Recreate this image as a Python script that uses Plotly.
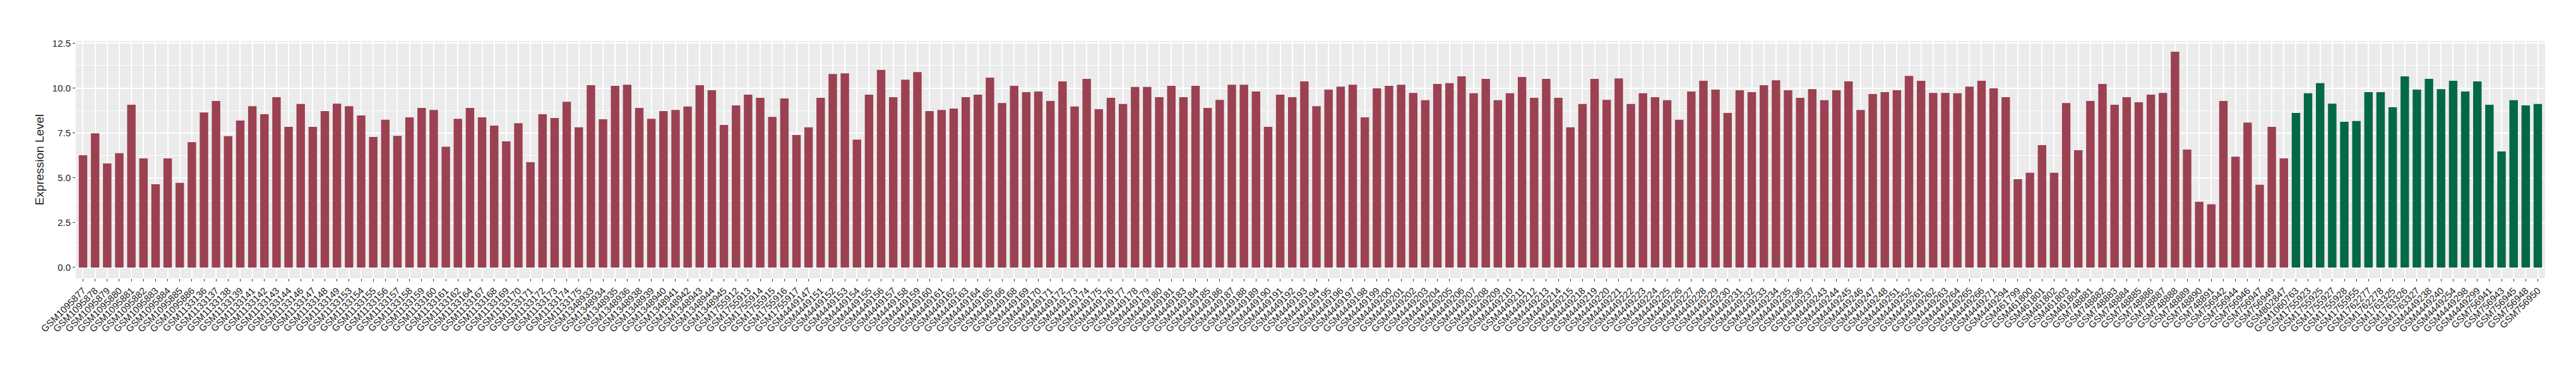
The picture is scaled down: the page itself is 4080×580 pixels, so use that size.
import plotly.graph_objects as go

# ---- data ----
samples_a = [
    "GSM1095877", "GSM1095878", "GSM1095879", "GSM1095880", "GSM1095881", "GSM1095882",
    "GSM1095883", "GSM1095884", "GSM1095885", "GSM1095886",
    "GSM1133136", "GSM1133137", "GSM1133138", "GSM1133139", "GSM1133141", "GSM1133142",
    "GSM1133143", "GSM1133144", "GSM1133146", "GSM1133147", "GSM1133148", "GSM1133149",
    "GSM1133153", "GSM1133154", "GSM1133155", "GSM1133156", "GSM1133157", "GSM1133158",
    "GSM1133159", "GSM1133160", "GSM1133161", "GSM1133162", "GSM1133164", "GSM1133167",
    "GSM1133168", "GSM1133169", "GSM1133170", "GSM1133171", "GSM1133172", "GSM1133173",
    "GSM1133174", "GSM1133175",
    "GSM1348933", "GSM1348934", "GSM1348935", "GSM1348936", "GSM1348938", "GSM1348939",
    "GSM1348940", "GSM1348941", "GSM1348942", "GSM1348943", "GSM1348944", "GSM1348945",
    "GSM1755912", "GSM1755913", "GSM1755914", "GSM1755915", "GSM1755916", "GSM1755917",
    "GSM4449147", "GSM4449151", "GSM4449152", "GSM4449153", "GSM4449154", "GSM4449155",
    "GSM4449156", "GSM4449157", "GSM4449158", "GSM4449159", "GSM4449160", "GSM4449161",
    "GSM4449162", "GSM4449163", "GSM4449164", "GSM4449165", "GSM4449166", "GSM4449168",
    "GSM4449169", "GSM4449170", "GSM4449171", "GSM4449172", "GSM4449173", "GSM4449174",
    "GSM4449175", "GSM4449176", "GSM4449177", "GSM4449178", "GSM4449179", "GSM4449180",
    "GSM4449181", "GSM4449183", "GSM4449184", "GSM4449185", "GSM4449186", "GSM4449187",
    "GSM4449188", "GSM4449189", "GSM4449190", "GSM4449191", "GSM4449192", "GSM4449193",
    "GSM4449194", "GSM4449195", "GSM4449196", "GSM4449197", "GSM4449198", "GSM4449199",
    "GSM4449200", "GSM4449201", "GSM4449202", "GSM4449203", "GSM4449204", "GSM4449205",
    "GSM4449206", "GSM4449207", "GSM4449208", "GSM4449209", "GSM4449210", "GSM4449211",
    "GSM4449212", "GSM4449213", "GSM4449214", "GSM4449215", "GSM4449218", "GSM4449219",
    "GSM4449220", "GSM4449221", "GSM4449222", "GSM4449223", "GSM4449224", "GSM4449225",
    "GSM4449226", "GSM4449227", "GSM4449228", "GSM4449229", "GSM4449230", "GSM4449231",
    "GSM4449232", "GSM4449233", "GSM4449234", "GSM4449235", "GSM4449236", "GSM4449237",
    "GSM4449243", "GSM4449244", "GSM4449245", "GSM4449246", "GSM4449247", "GSM4449248",
    "GSM4449251", "GSM4449252", "GSM4449261", "GSM4449262", "GSM4449263", "GSM4449264",
    "GSM4449265", "GSM4449266", "GSM4449271", "GSM4449294",
    "GSM461799", "GSM461800", "GSM461801", "GSM461802", "GSM461803", "GSM461804",
    "GSM748881", "GSM748882", "GSM748883", "GSM748884", "GSM748885", "GSM748886",
    "GSM748887", "GSM748888", "GSM748889", "GSM748890", "GSM748891",
    "GSM756942", "GSM756944", "GSM756946", "GSM756947", "GSM756949", "GSM802847",
]
values_a = [
    6.26, 7.48, 5.80, 6.37, 9.07, 6.08, 4.64, 6.08, 4.72, 6.99,
    8.64, 9.28, 7.32, 8.19, 8.99, 8.54, 9.49, 7.84, 9.11, 7.84,
    8.72, 9.13, 8.99, 8.47, 7.28, 8.23, 7.34, 8.37, 8.89, 8.78,
    6.73, 8.29, 8.89, 8.37, 7.91, 7.03, 8.04, 5.87, 8.54, 8.33,
    9.24, 7.81, 10.16, 8.26, 10.12, 10.19, 8.89, 8.29, 8.72, 8.78,
    8.97, 10.16, 9.88, 7.94, 9.03, 9.63, 9.46, 8.39, 9.42, 7.38,
    7.81, 9.46, 10.78, 10.82, 7.13, 9.63, 11.01, 9.49, 10.47, 10.89,
    8.72, 8.78, 8.86, 9.49, 9.63, 10.58, 9.17, 10.12, 9.77, 9.81,
    9.28, 10.37, 8.97, 10.51, 8.82, 9.46, 9.11, 10.06, 10.06, 9.49,
    10.12, 9.49, 10.12, 8.89, 9.34, 10.19, 10.19, 9.81, 7.84, 9.63,
    9.49, 10.37, 8.99, 9.91, 10.08, 10.19, 8.37, 9.98, 10.12, 10.19,
    9.73, 9.32, 10.23, 10.27, 10.65, 9.71, 10.51, 9.32, 9.71, 10.62,
    9.46, 10.51, 9.46, 7.81, 9.11, 10.51, 9.34, 10.54, 9.11, 9.71,
    9.49, 9.32, 8.23, 9.81, 10.41, 9.91, 8.61, 9.88, 9.77, 10.16,
    10.43, 9.88, 9.46, 9.94, 9.32, 9.88, 10.37, 8.78, 9.67, 9.77,
    9.88, 10.68, 10.41, 9.73, 9.73, 9.71, 10.08, 10.41, 9.98, 9.49,
    4.92, 5.28, 6.82, 5.28, 9.17, 6.54, 9.28, 10.23, 9.07, 9.49,
    9.21, 9.63, 9.73, 12.02, 6.57, 3.66, 3.52, 9.28, 6.18, 8.08,
    4.61, 7.84, 6.08,
]

samples_b = [
    "GSM1060763", "GSM1755923", "GSM1755925", "GSM1755927", "GSM1755928", "GSM1755955",
    "GSM1762277", "GSM1762278", "GSM1763325", "GSM1763326", "GSM1763327",
    "GSM4449238", "GSM4449240", "GSM4449254", "GSM4449298", "GSM4449299",
    "GSM756941", "GSM756943", "GSM756945", "GSM756948", "GSM756950",
]
values_b = [
    8.61, 9.71, 10.27, 9.13, 8.12, 8.16, 9.77, 9.77, 8.93, 10.65, 9.91,
    10.51, 9.94, 10.41, 9.81, 10.37, 9.07, 6.47, 9.32, 9.03, 9.11,
]

y_ticks = [0.0, 2.5, 5.0, 7.5, 10.0, 12.5]
y_title = "Expression Level"

# ---- figure ----
all_samples = samples_a + samples_b
n = len(all_samples)
ymax = max(values_a + values_b)
pad = ymax * 0.05

fig = go.Figure()
fig.add_trace(go.Bar(x=samples_a, y=values_a, width=0.7,
                     marker=dict(color="#9B4152", line=dict(width=0)),
                     showlegend=False))
fig.add_trace(go.Bar(x=samples_b, y=values_b, width=0.7,
                     marker=dict(color="#026847", line=dict(width=0)),
                     showlegend=False))

font_family = "Liberation Sans, Arial, sans-serif"

fig.update_layout(
    width=4080, height=580,
    margin=dict(l=112, r=57, t=57, b=147),
    paper_bgcolor="white",
    plot_bgcolor="#EBEBEB",
    barmode="overlay",
    font=dict(family=font_family, color="#1a1a1a"),
    xaxis=dict(
        type="category", automargin=False,
        categoryorder="array", categoryarray=all_samples,
        tickmode="array", tickvals=all_samples, ticktext=all_samples,
        range=[-0.6, n - 1 + 0.6],
        tickangle=-45,
        tickfont=dict(size=15, color="#1a1a1a", family=font_family),
        ticks="outside", ticklen=4, tickwidth=1, tickcolor="#333333",
        showgrid=True, gridcolor="white", gridwidth=1.6,
        zeroline=False, showline=False,
    ),
    yaxis=dict(
        automargin=False,
        range=[-pad, ymax + pad],
        tickmode="array", tickvals=y_ticks,
        ticktext=[f"{v:.1f}" for v in y_ticks],
        tickfont=dict(size=15, color="#1a1a1a", family=font_family),
        ticks="outside", ticklen=4, tickwidth=1, tickcolor="#333333",
        showgrid=True, gridcolor="white", gridwidth=1.6,
        minor=dict(tickmode="array", tickvals=[1.25, 3.75, 6.25, 8.75, 11.25],
                   showgrid=True, gridcolor="white", gridwidth=0.8, ticks=""),
        zeroline=False, showline=False,
        title=dict(text=y_title, font=dict(size=19, color="#1a1a1a", family=font_family),
                   standoff=8),
    ),
)

fig.write_html("out.html")
